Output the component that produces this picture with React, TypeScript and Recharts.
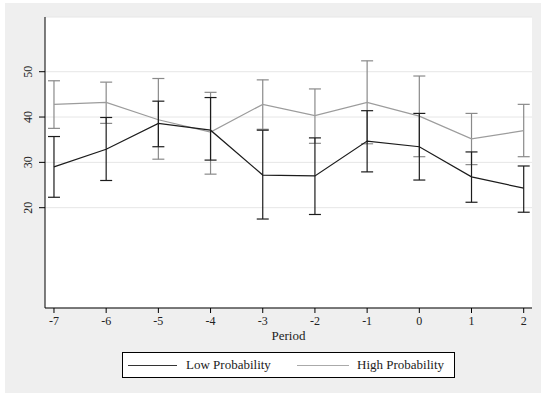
import React from "react";
import { CartesianGrid, ErrorBar, Line, LineChart, XAxis, YAxis } from "recharts";

const periods = [-7, -6, -5, -4, -3, -2, -1, 0, 1, 2];
const lowMean = [29.0, 32.9, 38.6, 37.1, 27.2, 27.0, 34.7, 33.45, 26.8, 24.3];
const lowUpper = [35.7, 39.9, 43.5, 44.3, 37.1, 35.4, 41.4, 40.8, 32.3, 29.2];
const lowLower = [22.3, 26.0, 33.45, 30.5, 17.5, 18.5, 27.9, 26.1, 21.2, 19.0];
const highMean = [42.8, 43.25, 39.4, 36.7, 42.8, 40.3, 43.25, 40.2, 35.2, 37.0];
const highUpper = [48.0, 47.7, 48.5, 45.45, 48.2, 46.2, 52.4, 49.05, 40.8, 42.8];
const highLower = [37.5, 38.6, 30.7, 27.4, 37.3, 34.2, 34.1, 31.25, 29.5, 31.25];
const yTicks = [20, 30, 40, 50];

const FONT = "Liberation Serif, Times New Roman, serif";
const LOW_COLOR = "#1c1c1c";
const HIGH_COLOR = "#9c9c9c";

const data = periods.map((p, i) => ({
  period: p,
  low: lowMean[i],
  lowErr: [lowMean[i] - lowLower[i], lowUpper[i] - lowMean[i]],
  high: highMean[i],
  highErr: [highMean[i] - highLower[i], highUpper[i] - highMean[i]],
}));

function YTick(props: any) {
  const { x, y, payload } = props;
  const cx = x - 9;
  return (
    <text
      x={cx}
      y={y}
      transform={`rotate(-90, ${cx}, ${y})`}
      textAnchor="middle"
      dominantBaseline="central"
      style={{ fontFamily: FONT, fontSize: 12 }}
      fill="#222"
    >
      {payload.value}
    </text>
  );
}

function XTick(props: any) {
  const { x, y, payload } = props;
  return (
    <text x={x} y={y + 10} textAnchor="middle" style={{ fontFamily: FONT, fontSize: 12 }} fill="#222">
      {payload.value}
    </text>
  );
}

export default function App() {
  return (
    <div style={{ position: "absolute", left: 0, top: 0, width: 541, height: 395, background: "#fff", fontFamily: FONT }}>
      <div style={{ position: "absolute", left: 5, top: 3, width: 536, height: 390, background: "#efefef" }} />
      <div style={{ position: "absolute", left: 0, top: 0 }}>
        <LineChart
          width={541}
          height={395}
          data={data}
          margin={{ top: 17, right: 9, bottom: 53, left: 5 }}
          style={{ fontFamily: FONT }}
        >
          <CartesianGrid horizontal vertical={false} fill="#ffffff" stroke="#e6e6e6" />
          <XAxis
            type="number"
            dataKey="period"
            domain={[-7.172, 2.159]}
            ticks={periods}
            allowDataOverflow
            height={34}
            tickSize={5}
            tickLine={{ stroke: "#000" }}
            axisLine={{ stroke: "#000" }}
            tick={<XTick />}
            label={{ value: "Period", position: "insideBottom", offset: 2, style: { fontFamily: FONT, fontSize: 13 }, fill: "#222" }}
          />
          <YAxis
            type="number"
            domain={[-2.13, 62.07]}
            ticks={yTicks}
            allowDataOverflow
            width={40}
            tickSize={6}
            tickLine={{ stroke: "#000" }}
            axisLine={{ stroke: "#000" }}
            tick={<YTick />}
          />
          <Line dataKey="high" stroke={HIGH_COLOR} strokeWidth={1.2} dot={false} isAnimationActive={false}>
            <ErrorBar dataKey="highErr" width={6} stroke="#8a8a8a" strokeWidth={1.2} direction="y" isAnimationActive={false} />
          </Line>
          <Line dataKey="low" stroke={LOW_COLOR} strokeWidth={1.2} dot={false} isAnimationActive={false}>
            <ErrorBar dataKey="lowErr" width={6} stroke={LOW_COLOR} strokeWidth={1.2} direction="y" isAnimationActive={false} />
          </Line>
        </LineChart>
      </div>
      <div
        style={{
          position: "absolute",
          left: 122,
          top: 352,
          width: 331,
          height: 24,
          background: "#fff",
          border: "1px solid #000",
          fontSize: 13,
          color: "#222",
        }}
      >
        <div style={{ position: "absolute", left: 5, top: 12, width: 49, height: 0, borderTop: "1px solid #333" }} />
        <div style={{ position: "absolute", left: 63, top: 4, whiteSpace: "nowrap" }}>Low Probability</div>
        <div style={{ position: "absolute", left: 174, top: 12, width: 52, height: 0, borderTop: "1px solid #aaa" }} />
        <div style={{ position: "absolute", left: 234, top: 4, whiteSpace: "nowrap" }}>High Probability</div>
      </div>
    </div>
  );
}
